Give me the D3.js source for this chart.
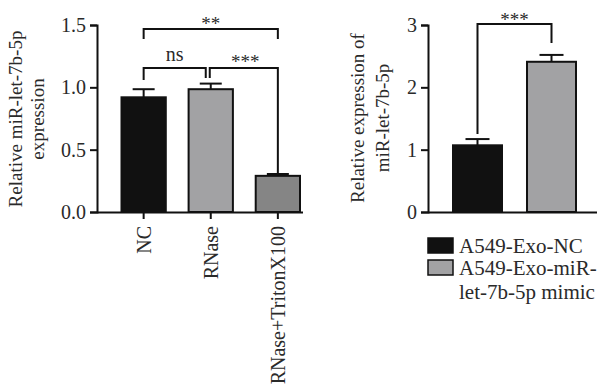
<!DOCTYPE html>
<meta charset="utf-8">
<style>
body { margin: 0; background: #fff; }
text { font-family: "Liberation Serif", "Times New Roman", serif; fill: #2a2a2a; }
.axis path, .axis line { stroke: #111; stroke-width: 2px; }
.axis text { font-size: 20px; fill: #2a2a2a; }
</style>
<body>
<script src="https://d3js.org/d3.v7.min.js"></script>
<script>

// left panel
var groupsA = ["NC", "RNase", "RNase+TritonX100"];
var meansA = [0.92, 0.985, 0.29];
var errA = [0.065, 0.045, 0.015];
var colorsA = ["#111111", "#a2a2a4", "#858585"];
var ticksA = [0, 0.5, 1.0, 1.5];

// right panel
var groupsB = ["A549-Exo-NC", "A549-Exo-miR-let-7b-5p mimic"];
var meansB = [1.07, 2.41];
var errB = [0.1, 0.11];
var colorsB = ["#111111", "#a2a2a4"];
var ticksB = [0, 1, 2, 3];

var width = 600, height = 391;

var svg = d3.select("body").append("svg")
    .attr("width", width)
    .attr("height", height);

function bracket(xa, xb, ytop, ya, yb) {
  svg.append("path")
    .attr("d", `M${xa},${ya}V${ytop}H${xb}V${yb}`)
    .attr("fill", "none")
    .attr("stroke", "#111")
    .attr("stroke-width", 2);
}
function label(x, y, t, size) {
  svg.append("text")
    .attr("x", x).attr("y", y)
    .attr("text-anchor", "middle")
    .style("font-size", size + "px")
    .text(t);
}

// ---------- left chart ----------
var x1 = d3.scaleBand().domain(groupsA).range([121.5, 300]).paddingInner(0.34).paddingOuter(0);
var y1 = d3.scaleLinear().domain([0, 1.5]).range([212, 25]);

svg.append("g")
    .attr("class", "axis")
    .attr("transform", "translate(97,0)")
    .call(d3.axisLeft(y1).tickValues(ticksA).tickFormat(d3.format(".1f")).tickSizeOuter(0).tickSize(7).tickPadding(4));

svg.append("g")
    .attr("class", "axis")
    .attr("transform", "translate(0,212)")
    .call(d3.axisBottom(x1).tickSizeOuter(0).tickSize(7))
    .call(g => g.select(".domain").attr("d", "M97,0.5H303"))
    .selectAll("text")
      .attr("transform", "rotate(-90)")
      .attr("text-anchor", "end")
      .attr("dy", "0.35em")
      .attr("x", -14)
      .attr("y", 0);

svg.selectAll(".barA")
    .data(groupsA)
  .enter().append("rect")
    .attr("x", d => x1(d))
    .attr("y", (d, i) => y1(meansA[i]))
    .attr("width", x1.bandwidth())
    .attr("height", (d, i) => y1(0) - y1(meansA[i]))
    .attr("fill", (d, i) => colorsA[i])
    .attr("stroke", "#111")
    .attr("stroke-width", 2);

var errGA = svg.selectAll(".errA")
    .data(groupsA)
  .enter().append("g");
errGA.append("line")
    .attr("x1", d => x1(d) + x1.bandwidth() / 2)
    .attr("x2", d => x1(d) + x1.bandwidth() / 2)
    .attr("y1", (d, i) => y1(meansA[i]))
    .attr("y2", (d, i) => y1(meansA[i] + errA[i]))
    .attr("stroke", "#111").attr("stroke-width", 2);
errGA.append("line")
    .attr("x1", d => x1(d) + x1.bandwidth() / 2 - 11)
    .attr("x2", d => x1(d) + x1.bandwidth() / 2 + 11)
    .attr("y1", (d, i) => y1(meansA[i] + errA[i]))
    .attr("y2", (d, i) => y1(meansA[i] + errA[i]))
    .attr("stroke", "#111").attr("stroke-width", 2);

function cx1(i) { return x1(groupsA[i]) + x1.bandwidth() / 2; }

bracket(cx1(0), cx1(2), 29, 39, 39);
label((cx1(0) + cx1(2)) / 2, 30, "**", 19);
bracket(cx1(0), cx1(1) - 5, 68, 80, 78);
label((cx1(0) + cx1(1) - 5) / 2, 61, "ns", 20);
bracket(cx1(1) - 1, cx1(2), 68, 78, y1(meansA[2] + errA[2]));
label((cx1(1) + cx1(2)) / 2 + 1, 68, "***", 19);

svg.append("text")
    .attr("transform", "translate(22,119) rotate(-90)")
    .attr("text-anchor", "middle")
    .style("font-size", "19px")
    .text("Relative miR-let-7b-5p");
svg.append("text")
    .attr("transform", "translate(44,119) rotate(-90)")
    .attr("text-anchor", "middle")
    .style("font-size", "19px")
    .text("expression");

// ---------- right chart ----------
var x2 = d3.scaleBand().domain(groupsB).range([453, 576]).paddingInner(0.338).paddingOuter(0);
var y2 = d3.scaleLinear().domain([0, 3]).range([212, 25]);

svg.append("g")
    .attr("class", "axis")
    .attr("transform", "translate(428,0)")
    .call(d3.axisLeft(y2).tickValues(ticksB).tickFormat(d3.format("d")).tickSizeOuter(0).tickSize(7).tickPadding(4));

svg.append("g")
    .attr("class", "axis")
    .attr("transform", "translate(0,212)")
    .call(d3.axisBottom(x2).tickSize(0).tickFormat(""))
    .call(g => g.select(".domain").attr("d", "M428,0.5H597"));

svg.selectAll(".barB")
    .data(groupsB)
  .enter().append("rect")
    .attr("x", d => x2(d))
    .attr("y", (d, i) => y2(meansB[i]))
    .attr("width", x2.bandwidth())
    .attr("height", (d, i) => y2(0) - y2(meansB[i]))
    .attr("fill", (d, i) => colorsB[i])
    .attr("stroke", "#111")
    .attr("stroke-width", 2);

var errGB = svg.selectAll(".errB")
    .data(groupsB)
  .enter().append("g");
errGB.append("line")
    .attr("x1", d => x2(d) + x2.bandwidth() / 2)
    .attr("x2", d => x2(d) + x2.bandwidth() / 2)
    .attr("y1", (d, i) => y2(meansB[i]))
    .attr("y2", (d, i) => y2(meansB[i] + errB[i]))
    .attr("stroke", "#111").attr("stroke-width", 2);
errGB.append("line")
    .attr("x1", d => x2(d) + x2.bandwidth() / 2 - 12)
    .attr("x2", d => x2(d) + x2.bandwidth() / 2 + 12)
    .attr("y1", (d, i) => y2(meansB[i] + errB[i]))
    .attr("y2", (d, i) => y2(meansB[i] + errB[i]))
    .attr("stroke", "#111").attr("stroke-width", 2);

function cx2(i) { return x2(groupsB[i]) + x2.bandwidth() / 2; }
bracket(cx2(0), cx2(1), 24, y2(meansB[0] + errB[0]) - 5, 43);
label((cx2(0) + cx2(1)) / 2, 26, "***", 19);

svg.append("text")
    .attr("transform", "translate(364,118) rotate(-90)")
    .attr("text-anchor", "middle")
    .style("font-size", "19px")
    .text("Relative expression of");
svg.append("text")
    .attr("transform", "translate(389,118) rotate(-90)")
    .attr("text-anchor", "middle")
    .style("font-size", "19px")
    .text("miR-let-7b-5p");

// legend
var legendLines = [["A549-Exo-NC"], ["A549-Exo-miR-", "let-7b-5p mimic"]];
var legend = svg.selectAll(".leg")
    .data(groupsB)
  .enter().append("g")
    .attr("transform", (d, i) => `translate(428,${238 + i * 22})`);
legend.append("rect")
    .attr("width", 25).attr("height", 15)
    .attr("fill", (d, i) => colorsB[i])
    .attr("stroke", "#111").attr("stroke-width", 1.5);
legend.append("text")
    .attr("x", 31)
    .attr("y", 14.5)
    .style("font-size", "21px")
    .selectAll("tspan")
    .data((d, i) => legendLines[i])
  .enter().append("tspan")
    .attr("x", 31)
    .attr("dy", (d, j) => j ? 24 : 0)
    .text(d => d);

</script>
